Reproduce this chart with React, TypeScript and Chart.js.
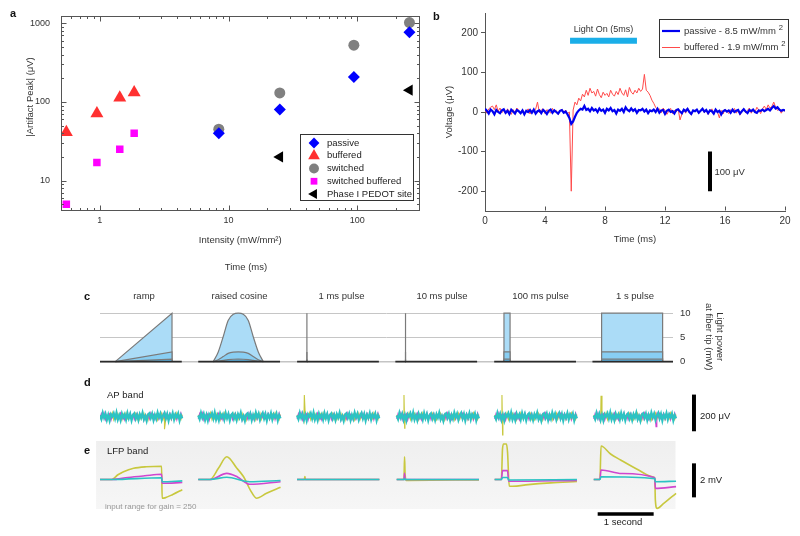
import React, { useEffect, useRef } from 'react';
import { Chart, registerables } from 'chart.js';
import { drawPoint } from 'chart.js/helpers';

Chart.register(...registerables);

const FONT = "'Liberation Sans', Arial, Helvetica, sans-serif";
Chart.defaults.font.family = FONT;
Chart.defaults.font.size = 9.5;
Chart.defaults.color = '#333';
Chart.defaults.plugins.legend.display = false;
Chart.defaults.plugins.tooltip.enabled = false;

const W = 800;
const H = 536;

// ---------------- Panel a ----------------
const passiveX = [8.4, 25, 94, 254];
const passiveY = [40, 80, 208, 768];
const bufferedX = [0.55, 0.95, 1.43, 1.85];
const bufferedY = [41, 71, 113, 132];
const switchedX = [8.4, 25, 94, 254];
const switchedY = [45, 130, 526, 1020];
const swBufferedX = [0.55, 0.95, 1.43, 1.85];
const swBufferedY = [5, 17, 25, 40];
const pedotX = [25, 254];
const pedotY = [20, 141];
const aXTicks = [0.5, 0.6, 0.7, 0.8, 0.9, 1, 2, 3, 4, 5, 6, 7, 8, 9, 10, 20, 30, 40, 50, 60, 70, 80, 90, 100, 200, 300];
const aXLabels = [1, 10, 100];
const aYTicks = [5, 6, 7, 8, 9, 10, 20, 30, 40, 50, 60, 70, 80, 90, 100, 200, 300, 400, 500, 600, 700, 800, 900, 1000];
const aYLabels = [10, 100, 1000];

// ---------------- Panel b ----------------
const bStep = 0.125; // ms between samples
const bBuffered = [
  5, -3, 8, 12, 15, 6, 18, 2, 10, -2,
  4, -5, 8, 0, -6, 6, -2, 10, 3, -4,
  6, -3, 2, 8, -5, 4, 0, 7, 25, -2,
  5, 8, -4, 6, 2, -3, 9, 0, 4, -6,
  3, 7, -2, 5, -4,
  0, -200, 5, 25, 18,
  35, 28, 45, 38, 55, 42, 60, 48, 52, 40,
  58, 44, 36, 50, 42, 47, 38, 55, 45, 40,
  52, 44, 60, 48, 42, 56, 38, 62, 50, 45,
  55, 48, 60, 52, 58,
  95, 55, 50, 42, 30, 22, 12, 6,
  8, -2, 10, 4, -6, 2, 9,
  -4, 5, 0, 8, -20, -5, 6, -3, 10, 2,
  -8, 5, 0, 7, -4, 3, 9, -2, 5, -6,
  2, 8, -3, 6, 0, -15, 4, -5, 7, 2,
  -4, 6, 0, 9, -3, 5, -8, 3, 8, -2,
  4, 10, -3, 6, 0, 12, 5, -4, 8, 15,
  6, 18, 10, 14, 25, 12, 4, 8, -3, 5,
  2,
];
const bPassive = [
  8, 3, -4, 6, 2, -6, 5, 0, -3, 4,
  7, -2, 3, -5, 6, 1, -4, 5, 2, -3,
  4, -6, 3, 0, 5, -2, 6, -4, 2, 4,
  -3, 5, 1, -5, 3, 6, -2, 4, 0, -4,
  3, 5, -2, 1,
  -6, -15, -30, -24, -12, -2, 4, 8, 6,
  15, 5, 8, 2, 10, 4, 7,
  0, 9, 3, 6, -2, 8, 4, 10, 2, 5,
  -4, 6, 3, 8, 0, 12, 5, 2, 9, 3,
  7, -2, 5, 4, 8, 1, 6, -3, 4, 2,
  6, 0, 8, -2, 4, 5, -5, 3, 6, 0,
  2, -4, 5, 7, 1, -3, 6, 2, 8, 0,
  -5, 4, 2, 6, -2, 3, 8, 1, 5, -3,
  4, 2, -4, 6, 0, 3, -6, 2, 5, 1,
  4, -2, 6, 0, 3, 5, -4, 2, 7, 1,
  -3, 5, 2, 6, 0, -2, 4, 3, 6, 2,
  5, 8, 4, 10, 15, 9, 12, 6, 3, 5,
  4,
];
const bXTicks = [0, 4, 8, 12, 16, 20];
const bYTicks = [-200, -100, 0, 100, 200];
const bLightOnT = [5.67, 10.13];
const bLightOnV = 180;
const bScaleBarT = 15;
const bScaleBarV = [-100, -200];

// ---------------- Panel c ----------------
const cLabels = ['ramp', 'raised cosine', '1 ms pulse', '10 ms pulse', '100 ms pulse', '1 s pulse'];
const cSegStart = [0, 1.61, 3.23, 4.84, 6.46, 8.07]; // s
const cSegLen = 1.34;
const cPower = [10, 2, 0.5]; // mW
const cShapeT = [
  [0.25, 1.18, 1.18],
  [0.246, 0.328, 0.41, 0.49, 0.574, 0.656, 0.738, 0.82, 0.9, 0.984, 1.066],
  [0.16, 0.16, 0.161, 0.161],
  [0.16, 0.16, 0.17, 0.17],
  [0.16, 0.16, 0.26, 0.26],
  [0.15, 0.15, 1.15, 1.15],
];
const cShapeF = [
  [0, 1, 0],
  [0, 0.2, 0.52, 0.85, 0.98, 1, 0.98, 0.85, 0.52, 0.2, 0],
  [0, 1, 1, 0],
  [0, 1, 1, 0],
  [0, 1, 1, 0],
  [0, 1, 1, 0],
];
const cYTicks = [0, 5, 10];

// ---------------- Panel d ----------------
const deSegStart = [0, 1.755, 3.52, 5.3, 7.05, 8.82]; // s
const deSegLen = 1.47;
const dYellowNoise = [9, -15, 19, -6, 14, -20, 5, 15, -11, 21, -17, 7, -12, 17, -4, 11, -18, 13, -8, 20, -11, 5, 16, -19, 9, -6, 17, -14, 8, -17, 11, -5, 18, -14, 6, -20, 12, -8, 17, -10, 4, 14, -18, 10, -5, 19, -15, 8, -12, 16, -7, 13, -17, 5, 15, -11, 20, -9, 7, -16, 11];
const dMagentaNoise = [-12, 17, -7, 20, -18, 10, -4, 14, -21, 8, 18, -10, 13, -16, 6, 20, -14, 4, -19, 11, 16, -8, 21, -5, 12, -17, 8, 19, -11, 14, -6, 17, -20, 9, -3, 15, -13, 20, -8, 11, -17, 5, 18, -14, 8, -20, 14, -5, 17, -11, 7, 19, -15, 10, -4, 16, -18, 12, -9, 20, -7];
const dCyanNoise = [6, -14, 20, -7, 15, -18, 9, -22, 13, 0, 18, -11, 22, -16, 7, -20, 16, -5, 12, -17, 19, -9, 14, -21, 8, 17, -12, 10, -19, 13, -6, 21, -15, 4, -23, 11, 18, -8, 15, -20, 9, -13, 22, -4, 16, -18, 6, 20, -11, 14, -22, 10, -7, 19, -16, 12, -3, 17, -21, 8, -10];
const dSpikeSeg = [0, 2, 3, 4, 5, 5];
const dSpikeColor = ['y', 'y', 'y', 'y', 'y', 'm'];
const dSpikeT = [1.14, 0.13, 0.13, 0.13, 0.13, 1.1];
const dSpikeUp = [0, 118, 118, 118, 113, 0];
const dSpikeDown = [-69, 0, -63, -100, 0, -55];
const dScaleT = 10.61;
const dScaleV = [-80, 120];

// ---------------- Panel e ----------------
const eYellowT = [
  [0, 0.21, 0.32, 0.42, 0.6, 0.83, 1.1, 1.11, 1.16, 1.3, 1.47],
  [0, 0.21, 0.36, 0.51, 0.69, 0.81, 0.93, 1.04, 1.22, 1.47],
  [0, 0.13, 0.14, 0.15, 1.47],
  [0, 0.13, 0.14, 0.15, 0.17, 1.47],
  [0, 0.12, 0.14, 0.16, 0.21, 0.23, 0.26, 0.32, 0.6, 1.0, 1.47],
  [0, 0.11, 0.13, 0.3, 0.48, 0.8, 1.05, 1.09, 1.1, 1.13, 1.25, 1.47],
];
const eYellowV = [
  [0, 0, 0.28, 0.46, 0.66, 0.75, 0.78, -1.1, -1.08, -0.88, -0.6],
  [0, 0, 0.66, 1.34, 0.66, 0.16, -0.62, -1.1, -0.81, -0.46],
  [0, 0, 0.17, 0, 0],
  [0, 0, 1.34, 0.3, -0.05, -0.02],
  [0, 0, 1.8, 2.09, 2.09, 1.6, -0.38, -0.4, -0.3, -0.2, -0.12],
  [0, 0, 1.97, 1.5, 1.15, 0.56, 0.16, 0.07, -1.2, -1.7, -1.4, -0.81],
];
const eMagentaT = [
  [0, 0.21, 0.5, 0.8, 1.1, 1.11, 1.47],
  [0, 0.21, 0.51, 0.7, 0.92, 1.47],
  [0, 1.47],
  [0, 0.13, 0.14, 0.15, 1.47],
  [0, 0.12, 0.14, 0.23, 0.25, 1.47],
  [0, 0.11, 0.13, 0.5, 1.09, 1.1, 1.47],
];
const eMagentaV = [
  [0, 0, 0.12, 0.22, 0.31, -0.22, -0.18],
  [0, 0, 0.36, 0.15, -0.28, -0.13],
  [0, 0],
  [0, 0, 0.36, 0, 0],
  [0, 0, 0.52, 0.52, -0.1, -0.05],
  [0, 0, 0.56, 0.35, 0.1, -0.52, -0.42],
];
const eCyanT = [
  [0, 0.21, 1.1, 1.11, 1.47],
  [0, 0.21, 0.51, 0.92, 1.47],
  [0, 1.47],
  [0, 0.13, 0.14, 0.15, 1.47],
  [0, 0.12, 0.14, 0.23, 0.25, 1.47],
  [0, 0.11, 0.13, 1.09, 1.1, 1.47],
];
const eCyanV = [
  [0, 0, 0.1, -0.13, -0.08],
  [0, 0, 0.13, -0.13, -0.06],
  [0, 0],
  [0, 0, 0.06, 0, 0],
  [0, 0, 0.12, 0.12, -0.03, 0],
  [0, 0, 0.16, 0.05, -0.13, -0.1],
];
const eScaleT = 10.61;
const eScaleV = [-1.05, 0.95];
const eSecondT = [8.89, 9.89];
const eSecondV = -2.03;

const YELLOW = '#c8c83e';
const MAGENTA = '#cf46cf';
const CYAN = '#2cc3c3';

// ---------------- helpers ----------------
const pts = (xs: number[], ys: number[]) => xs.map((x, i) => ({ x, y: ys[i] }));

type Txt = {
  t: string; x: number; y: number; data?: boolean; align?: CanvasTextAlign;
  size?: number; bold?: boolean; color?: string; sup?: string; rot?: number;
};

function textPlugin(id: string, items: Txt[]) {
  return {
    id,
    afterDraw(chart: any) {
      const ctx = chart.ctx;
      for (const it of items) {
        ctx.save();
        let x = it.x;
        let y = it.y;
        if (it.data) {
          x = chart.scales.x.getPixelForValue(it.x);
          y = chart.scales.y.getPixelForValue(it.y);
        }
        const size = it.size ?? 9.5;
        ctx.font = `${it.bold ? 'bold ' : ''}${size}px ${FONT}`;
        ctx.fillStyle = it.color ?? '#333';
        ctx.textAlign = it.align ?? 'left';
        ctx.textBaseline = 'middle';
        if (it.rot) {
          ctx.translate(x, y);
          ctx.rotate(it.rot);
          x = 0;
          y = 0;
        }
        ctx.fillText(it.t, x, y);
        if (it.sup) {
          const w = ctx.measureText(it.t).width;
          const endX = it.align === 'center' ? x + w / 2 : x + w;
          ctx.font = `${size * 0.8}px ${FONT}`;
          ctx.textAlign = 'left';
          ctx.fillText(it.sup, endX + 3, y - 3.5);
        }
        ctx.restore();
      }
    },
  };
}

const fixW = (w: number) => (s: any) => { s.width = w; };
const fixH = (h: number) => (s: any) => { s.height = h; };
const setTicks = (vals: number[]) => (s: any) => { s.ticks = vals.map((v) => ({ value: v })); };

// ---------------- chart configs ----------------
function configA(): any {
  const mk = (label: string, xs: number[], ys: number[], style: string, r: number, color: string, rot = 0) => ({
    label, data: pts(xs, ys), pointStyle: style, pointRadius: r, pointRotation: rot,
    backgroundColor: color, borderColor: color, borderWidth: 0, showLine: false,
  });
  const frame = {
    id: 'aFrame',
    afterDraw(chart: any) {
      const { ctx, chartArea, scales } = chart;
      const L = Math.round(chartArea.left) + 0.5;
      const R = Math.round(chartArea.right) - 0.5;
      const T = Math.round(chartArea.top) + 0.5;
      const B = Math.round(chartArea.bottom) - 0.5;
      ctx.save();
      ctx.strokeStyle = '#555';
      ctx.lineWidth = 1;
      ctx.strokeRect(L, T, R - L, B - T);
      ctx.beginPath();
      for (const v of aXTicks) {
        const p = Math.round(scales.x.getPixelForValue(v)) + 0.5;
        const len = aXLabels.includes(v) ? 5 : 2.5;
        ctx.moveTo(p, B); ctx.lineTo(p, B - len);
        ctx.moveTo(p, T); ctx.lineTo(p, T + len);
      }
      for (const v of aYTicks) {
        const p = Math.round(scales.y.getPixelForValue(v)) + 0.5;
        const len = aYLabels.includes(v) ? 5 : 2.5;
        ctx.moveTo(L, p); ctx.lineTo(L + len, p);
        ctx.moveTo(R, p); ctx.lineTo(R - len, p);
      }
      ctx.stroke();
      // legend
      ctx.fillStyle = '#fff';
      ctx.fillRect(300, 134, 114, 67);
      ctx.strokeStyle = '#333';
      ctx.strokeRect(300.5, 134.5, 113, 66);
      chart.data.datasets.forEach((ds: any, i: number) => {
        const y = 143 + i * 12.75;
        ctx.fillStyle = ds.backgroundColor;
        drawPoint(ctx, { pointStyle: ds.pointStyle, radius: ds.pointRadius * 0.9, rotation: ds.pointRotation, borderWidth: 0 }, 314, y);
        ctx.fillStyle = '#222';
        ctx.font = `9.5px ${FONT}`;
        ctx.textAlign = 'left';
        ctx.textBaseline = 'middle';
        ctx.fillText(ds.label, 327, y);
      });
      ctx.restore();
    },
  };
  return {
    type: 'scatter',
    data: {
      datasets: [
        mk('passive', passiveX, passiveY, 'rectRot', 6, '#0000ff'),
        mk('buffered', bufferedX, bufferedY, 'triangle', 7.5, '#ff3030'),
        mk('switched', switchedX, switchedY, 'circle', 5.5, '#808080'),
        mk('switched buffered', swBufferedX, swBufferedY, 'rect', 5.3, '#ff00ff'),
        mk('Phase I PEDOT site', pedotX, pedotY, 'triangle', 6.5, '#000000', -90),
      ],
    },
    options: {
      responsive: false, animation: false, devicePixelRatio: 1,
      layout: { padding: { left: 21, right: 380.5, top: 13, bottom: 289 } },
      scales: {
        x: {
          type: 'logarithmic', min: 0.5, max: 304,
          afterBuildTicks: setTicks(aXTicks), afterFit: fixH(36),
          grid: { display: false, drawTicks: false }, border: { display: false },
          ticks: { autoSkip: false, maxRotation: 0, padding: 4, color: '#333', font: { size: 9 }, callback: (v: number) => (aXLabels.includes(v) ? String(v) : '') },
          title: { display: true, text: 'Intensity (mW/mm²)', color: '#333', padding: { top: 0, bottom: 0.5 } },
        },
        y: {
          type: 'logarithmic', min: 4.1, max: 1223,
          afterBuildTicks: setTicks(aYTicks), afterFit: fixW(40),
          grid: { display: false, drawTicks: false }, border: { display: false },
          ticks: { autoSkip: false, padding: 11, color: '#333', font: { size: 9 }, callback: (v: number) => (aYLabels.includes(v) ? String(v) : '') },
          title: { display: false },
        },
      },
    },
    plugins: [
      frame,
      textPlugin('aText', [
        { t: 'a', x: 10, y: 14, bold: true, size: 11, color: '#111' },
        { t: '|Artifact Peak| (μV)', x: 30, y: 97, align: 'center', rot: -Math.PI / 2 },
        { t: 'Time (ms)', x: 246, y: 267, align: 'center' },
      ]),
    ],
  };
}

function configB(): any {
  const times = bBuffered.map((_, i) => i * bStep);
  const inward = {
    id: 'bTicks',
    afterDraw(chart: any) {
      const { ctx, chartArea, scales } = chart;
      const B = Math.round(chartArea.bottom) - 0.5;
      ctx.save();
      ctx.strokeStyle = '#555';
      ctx.lineWidth = 1;
      ctx.beginPath();
      for (const v of bXTicks) {
        const p = Math.round(scales.x.getPixelForValue(v)) + 0.5;
        ctx.moveTo(p, B); ctx.lineTo(p, B - 4);
      }
      ctx.stroke();
      // legend
      ctx.fillStyle = '#fff';
      ctx.fillRect(659, 19, 130, 39);
      ctx.strokeStyle = '#333';
      ctx.strokeRect(659.5, 19.5, 129, 38);
      ctx.strokeStyle = '#0000f0';
      ctx.lineWidth = 2.2;
      ctx.beginPath(); ctx.moveTo(662, 31); ctx.lineTo(680, 31); ctx.stroke();
      ctx.strokeStyle = '#ff4a4a';
      ctx.lineWidth = 1;
      ctx.beginPath(); ctx.moveTo(662, 47.5); ctx.lineTo(680, 47.5); ctx.stroke();
      ctx.restore();
    },
  };
  return {
    type: 'line',
    data: {
      datasets: [
        { data: pts(bLightOnT, [bLightOnV, bLightOnV]), borderColor: '#1aaee8', borderWidth: 6, pointRadius: 0, borderCapStyle: 'butt', order: 0 },
        { data: pts([bScaleBarT, bScaleBarT], bScaleBarV), borderColor: '#000', borderWidth: 4, pointRadius: 0, order: 0 },
        { data: pts(times, bPassive), borderColor: '#0000f0', borderWidth: 2.2, pointRadius: 0, order: 1 },
        { data: pts(times, bBuffered), borderColor: '#ff4a4a', borderWidth: 1, pointRadius: 0, order: 2 },
      ],
    },
    options: {
      responsive: false, animation: false, devicePixelRatio: 1,
      layout: { padding: { left: 440, right: 15, top: 13, bottom: 290 } },
      scales: {
        x: {
          type: 'linear', min: 0, max: 20, afterBuildTicks: setTicks(bXTicks), afterFit: fixH(35),
          grid: { display: false, drawTicks: false }, border: { display: true, color: '#555' },
          ticks: { padding: 4, maxRotation: 0, color: '#333', font: { size: 10 } },
          title: { display: true, text: 'Time (ms)', color: '#333', padding: { top: 0, bottom: 1 } },
        },
        y: {
          min: -250, max: 250, afterBuildTicks: setTicks(bYTicks), afterFit: fixW(45),
          grid: { display: true, drawOnChartArea: false, drawTicks: true, tickLength: 4, color: '#555' },
          border: { display: true, color: '#555' },
          ticks: { padding: 3, color: '#333', font: { size: 10 } },
          title: { display: true, text: 'Voltage (μV)', color: '#333', padding: { top: 4, bottom: 0 } },
        },
      },
    },
    plugins: [
      inward,
      textPlugin('bText', [
        { t: 'b', x: 433, y: 17, bold: true, size: 11, color: '#111' },
        { t: 'Light On (5ms)', x: 7.9, y: 208, data: true, align: 'center', size: 9 },
        { t: '100 μV', x: 15.3, y: -152, data: true, size: 9.5 },
        { t: 'passive - 8.5 mW/mm', x: 684, y: 31, sup: '2', size: 9.5 },
        { t: 'buffered - 1.9 mW/mm', x: 684, y: 47.5, sup: '2', size: 9.5 },
      ]),
    ],
  };
}

function configC(): any {
  const fills = ['#abdcf7', '#88cef3', '#62bdee'];
  const datasets: any[] = [];
  cSegStart.forEach((s0, s) => {
    cPower.forEach((p, j) => {
      datasets.push({
        data: cShapeT[s].map((t, k) => ({ x: s0 + t, y: cShapeF[s][k] * p })),
        fill: 'origin', backgroundColor: fills[j], borderColor: '#7a7a7a', borderWidth: 1.2,
        pointRadius: 0, cubicInterpolationMode: s === 1 ? 'monotone' : 'default', order: 4 - j,
      });
    });
    datasets.push({
      data: [{ x: s0, y: 0 }, { x: s0 + cSegLen, y: 0 }],
      borderColor: '#2a2a2a', borderWidth: 1.6, pointRadius: 0, order: 0,
    });
  });
  datasets.push({
    data: [{ x: 0, y: 0 }, { x: 9.39, y: 0 }],
    borderColor: '#c4c4c4', borderWidth: 1.5, pointRadius: 0, order: 10,
  });
  return {
    type: 'line',
    data: { datasets },
    options: {
      responsive: false, animation: false, devicePixelRatio: 1,
      layout: { padding: { left: 100, right: 72, top: 307.4, bottom: 170 } },
      scales: {
        x: { type: 'linear', min: 0, max: 9.39, display: false },
        y: {
          position: 'right', min: -0.9, max: 11.2, afterBuildTicks: setTicks(cYTicks), afterFit: fixW(55),
          grid: { display: true, drawTicks: false, color: (c: any) => (c.tick && c.tick.value === 0 ? 'rgba(0,0,0,0)' : '#c6c6c6') },
          border: { display: false },
          ticks: { padding: 7, color: '#333' },
          title: { display: true, text: ['Light power', 'at fiber tip (mW)'], color: '#333', padding: { top: 2.4, bottom: 0 } },
        },
      },
    },
    plugins: [
      textPlugin('cText', [
        { t: 'c', x: 84, y: 297, bold: true, size: 11, color: '#111' },
        { t: cLabels[0], x: 144, y: 296, align: 'center' },
        { t: cLabels[1], x: 239.5, y: 296, align: 'center' },
        { t: cLabels[2], x: 341.5, y: 296, align: 'center' },
        { t: cLabels[3], x: 442, y: 296, align: 'center' },
        { t: cLabels[4], x: 540.5, y: 296, align: 'center' },
        { t: cLabels[5], x: 635, y: 296, align: 'center' },
      ]),
    ],
  };
}

function noiseSeg(noise: number[], s: number, key: string) {
  const n = noise.length;
  const arr = noise.map((v, k) => ({ x: deSegStart[s] + (k * deSegLen) / (n - 1), y: v }));
  dSpikeSeg.forEach((seg, i) => {
    if (seg === s && dSpikeColor[i] === key) {
      const t = deSegStart[s] + dSpikeT[i];
      if (dSpikeUp[i]) arr.push({ x: t, y: dSpikeUp[i] });
      if (dSpikeDown[i]) arr.push({ x: t + 0.012, y: dSpikeDown[i] });
    }
  });
  arr.sort((a, b) => a.x - b.x);
  return arr;
}

function configD(): any {
  const datasets: any[] = [];
  deSegStart.forEach((_, s) => {
    datasets.push({ data: noiseSeg(dYellowNoise, s, 'y'), borderColor: YELLOW, borderWidth: 1.1, pointRadius: 0, order: 3 });
    datasets.push({ data: noiseSeg(dMagentaNoise, s, 'm'), borderColor: MAGENTA, borderWidth: 1.1, pointRadius: 0, order: 2 });
    datasets.push({ data: noiseSeg(dCyanNoise, s, 'c'), borderColor: CYAN, borderWidth: 2.2, pointRadius: 0, order: 1 });
  });
  datasets.push({ data: pts([dScaleT, dScaleT], dScaleV), borderColor: '#000', borderWidth: 4, pointRadius: 0, order: 0 });
  return {
    type: 'line',
    data: { datasets },
    options: {
      responsive: false, animation: false, devicePixelRatio: 1,
      layout: { padding: { left: 100, right: 73, top: 390, bottom: 95 } },
      scales: {
        x: { type: 'linear', min: 0, max: 11.2, display: false },
        y: { min: -133, max: 145, display: false },
      },
    },
    plugins: [
      textPlugin('dText', [
        { t: 'd', x: 84, y: 383, bold: true, size: 11, color: '#111' },
        { t: 'AP band', x: 107, y: 395, color: '#222' },
        { t: '200 μV', x: 700, y: 416, color: '#222' },
      ]),
    ],
  };
}

function configE(): any {
  const datasets: any[] = [];
  const segLine = (T: number[][], V: number[][], s: number, color: string, order: number) => ({
    data: T[s].map((t, k) => ({ x: deSegStart[s] + t, y: V[s][k] })),
    borderColor: color, borderWidth: 1.6, pointRadius: 0, cubicInterpolationMode: 'monotone', order,
  });
  deSegStart.forEach((_, s) => {
    datasets.push(segLine(eYellowT, eYellowV, s, YELLOW, 3));
    datasets.push(segLine(eMagentaT, eMagentaV, s, MAGENTA, 2));
    datasets.push(segLine(eCyanT, eCyanV, s, CYAN, 1));
  });
  datasets.push({ data: pts([eScaleT, eScaleT], eScaleV), borderColor: '#000', borderWidth: 4, pointRadius: 0, order: 0 });
  datasets.push({ data: pts(eSecondT, [eSecondV, eSecondV]), borderColor: '#000', borderWidth: 3.5, pointRadius: 0, borderCapStyle: 'butt', order: 0 });
  const bg = {
    id: 'eBg',
    beforeDatasetsDraw(chart: any) {
      const { ctx, scales } = chart;
      const x0 = scales.x.getPixelForValue(-0.07);
      const x1 = scales.x.getPixelForValue(10.28);
      const y0 = scales.y.getPixelForValue(2.265);
      const y1 = scales.y.getPixelForValue(-1.735);
      const g = ctx.createLinearGradient(0, y0, 0, y1);
      g.addColorStop(0, '#efefef');
      g.addColorStop(1, '#f6f6f6');
      ctx.save();
      ctx.fillStyle = g;
      ctx.fillRect(x0, y0, x1 - x0, y1 - y0);
      ctx.restore();
    },
  };
  return {
    type: 'line',
    data: { datasets },
    options: {
      responsive: false, animation: false, devicePixelRatio: 1,
      layout: { padding: { left: 100, right: 73, top: 441, bottom: 6 } },
      scales: {
        x: { type: 'linear', min: 0, max: 11.2, display: false },
        y: { min: -2.97, max: 2.265, display: false },
      },
    },
    plugins: [
      bg,
      textPlugin('eText', [
        { t: 'e', x: 84, y: 451, bold: true, size: 11, color: '#111' },
        { t: 'LFP band', x: 107, y: 451, color: '#222' },
        { t: 'input range for gain = 250', x: 105, y: 506.5, size: 8, color: '#999' },
        { t: '2 mV', x: 700, y: 480, color: '#222' },
        { t: '1 second', x: 623, y: 522, align: 'center', color: '#222' },
      ]),
    ],
  };
}

export default function App() {
  const canvases = useRef<(HTMLCanvasElement | null)[]>([]);
  useEffect(() => {
    document.body.style.margin = '0';
    const cfgs = [configA(), configB(), configC(), configD(), configE()];
    const charts = cfgs.map((cfg, i) => new Chart(canvases.current[i] as HTMLCanvasElement, cfg));
    return () => charts.forEach((c) => c.destroy());
  }, []);
  return (
    <div style={{ position: 'absolute', left: 0, top: 0, width: W, height: H, background: '#fff', overflow: 'hidden' }}>
      {[0, 1, 2, 3, 4].map((i) => (
        <canvas
          key={i}
          ref={(el) => { canvases.current[i] = el; }}
          width={W}
          height={H}
          style={{ position: 'absolute', left: 0, top: 0, width: W, height: H }}
        />
      ))}
    </div>
  );
}
